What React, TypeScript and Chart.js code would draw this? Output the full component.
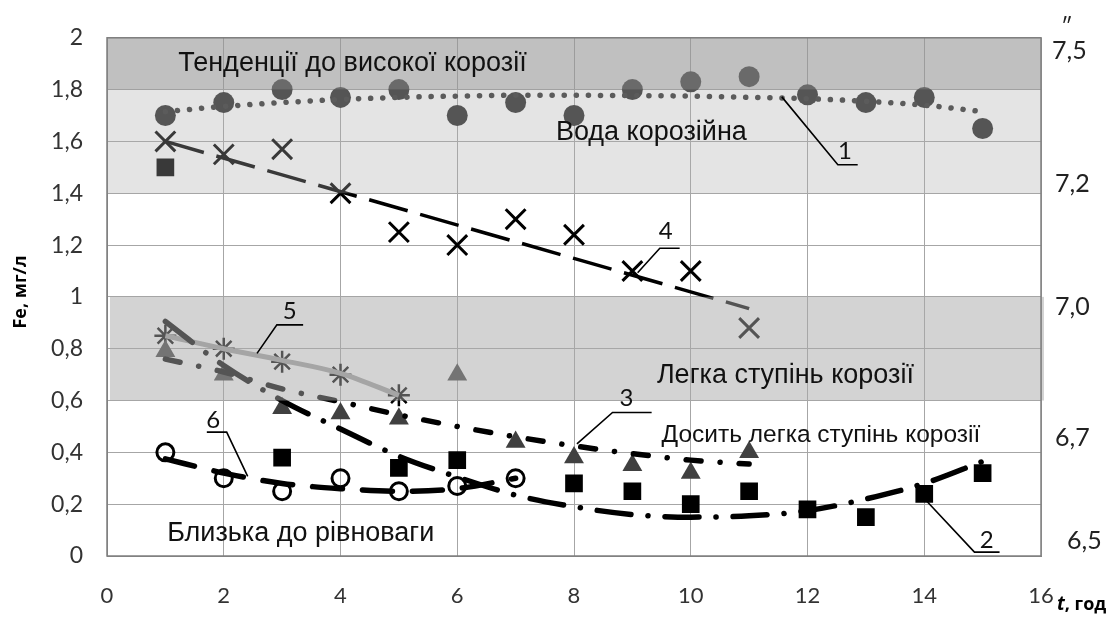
import React, { useEffect, useRef } from "react";
import { Chart, registerables } from "chart.js";

Chart.register(...registerables);

// ---- data (t in hours, Fe in mg/l) ----
const t1 = [1, 2, 3, 4, 5, 6, 7, 8, 9, 10, 11, 12, 13, 14, 15];
const fe1 = [1.7, 1.75, 1.8, 1.77, 1.8, 1.7, 1.75, 1.7, 1.8, 1.83, 1.85, 1.78, 1.75, 1.77, 1.65];
const trend1 = [1.715, 1.735, 1.75, 1.762, 1.77, 1.775, 1.778, 1.778, 1.777, 1.775, 1.77, 1.765, 1.755, 1.74, 1.715];

const t2 = [1, 3, 5, 6, 8, 9, 10, 11, 12, 13, 14, 15];
const fe2 = [1.5, 0.38, 0.34, 0.37, 0.28, 0.25, 0.2, 0.25, 0.18, 0.15, 0.24, 0.32];
const tTrend2 = [1, 2, 3, 4, 5, 6, 7, 8, 9, 10, 11, 12, 13, 14, 15];
const trend2 = [0.905, 0.735, 0.6, 0.49, 0.385, 0.305, 0.235, 0.19, 0.16, 0.15, 0.155, 0.175, 0.22, 0.28, 0.365];

const t3 = [1, 2, 3, 4, 5, 6, 7, 8, 9, 10, 11];
const fe3 = [0.79, 0.7, 0.57, 0.55, 0.53, 0.7, 0.44, 0.38, 0.35, 0.32, 0.4];
const trend3 = [0.76, 0.71, 0.645, 0.595, 0.545, 0.5, 0.46, 0.425, 0.395, 0.37, 0.355];

const t4 = [1, 2, 3, 4, 5, 6, 7, 8, 9, 10, 11];
const fe4 = [1.6, 1.55, 1.57, 1.4, 1.25, 1.2, 1.3, 1.24, 1.1, 1.1, 0.88];
const tTrend4 = [1, 11];
const trend4 = [1.6, 0.955];

const t5 = [1, 2, 3, 4, 5];
const fe5 = [0.85, 0.8, 0.75, 0.7, 0.62];
const trend5 = [0.85, 0.8, 0.755, 0.705, 0.62];

const t6 = [1, 2, 3, 4, 5, 6, 7];
const fe6 = [0.4, 0.3, 0.25, 0.3, 0.25, 0.27, 0.3];
const trend6 = [0.375, 0.32, 0.28, 0.26, 0.25, 0.26, 0.3];

// corrosion zones (Fe, mg/l)
const bandFrom = [1.8, 1.4, 0.6];
const bandTo = [2.0, 1.8, 1.0];

const zoneTexts = [
  "Тенденції до високої корозії",
  "Вода корозійна",
  "Легка ступінь корозії",
  "Досить легка ступінь корозії",
  "Близька до рівноваги",
];
const zoneT = [1.22, 7.69, 9.42, 9.5, 1.03];
const zoneFe = [1.9, 1.636, 0.698, 0.467, 0.087];

// pH labels on the right side, at their Fe-scale levels
const phLabels = ["7,5", "7,2", "7,0", "6,7", "6,5"];
const phLevels = [1.95, 1.435, 0.96, 0.455, 0.057];

// curve number callouts: text, text position, leader polyline (t, Fe)
const calloutTexts = ["1", "2", "3", "4", "5", "6"];
const calloutAt = [
  [12.64, 1.563],
  [15.07, 0.06],
  [8.9, 0.607],
  [9.57, 1.252],
  [3.13, 0.945],
  [1.82, 0.524],
];
const calloutPaths = [
  [[11.56, 1.772], [12.52, 1.51], [12.86, 1.51]],
  [[14.04, 0.2125], [14.86, 0.015], [15.29, 0.015]],
  [[8.05, 0.433], [8.66, 0.554], [9.33, 0.554]],
  [[9.09, 1.093], [9.47, 1.188], [9.81, 1.188]],
  [[2.57, 0.782], [2.91, 0.892], [3.36, 0.892]],
  [[2.41, 0.307], [2.05, 0.478], [1.71, 0.478]],
];

const pts = (xs: number[], ys: number[]) => xs.map((x, i) => ({ x, y: ys[i] }));

const overlayPlugin = {
  id: "overlay",
  afterDatasetsDraw(chart: any) {
    const { ctx, chartArea: a, scales } = chart;
    const x = scales.x;
    const y = scales.y;
    const bandFill = ["rgba(150,150,150,0.6)", "rgba(172,172,172,0.33)", "rgba(167,167,167,0.5)"];
    const bandInset = [0, 0, 3];
    const bandExtend = [0, 0, 3];
    ctx.save();
    bandFrom.forEach((f, i) => {
      const yt = y.getPixelForValue(bandTo[i]);
      const yb = y.getPixelForValue(f);
      ctx.fillStyle = bandFill[i];
      ctx.fillRect(a.left + bandInset[i], yt, a.right - a.left - bandInset[i] + bandExtend[i], yb - yt);
    });
    // plot frame
    ctx.strokeStyle = "#7f7f7f";
    ctx.lineWidth = 1.5;
    ctx.strokeRect(a.left, a.top, a.right - a.left, a.bottom - a.top);

    // zone texts
    ctx.fillStyle = "#111";
    ctx.textBaseline = "middle";
    ctx.textAlign = "left";
    zoneTexts.forEach((s, i) => {
      ctx.font = (i === 3 ? "24.5px" : "27px") + " 'Liberation Sans', Arial, sans-serif";
      ctx.fillText(s, x.getPixelForValue(zoneT[i]), y.getPixelForValue(zoneFe[i]));
    });

    // callouts
    ctx.strokeStyle = "#000";
    ctx.lineWidth = 1.6;
    calloutPaths.forEach((p) => {
      ctx.beginPath();
      p.forEach(([tv, fv], j) => {
        const px = x.getPixelForValue(tv);
        const py = y.getPixelForValue(fv);
        if (j === 0) ctx.moveTo(px, py);
        else ctx.lineTo(px, py);
      });
      ctx.stroke();
    });
    ctx.font = "24px Lato, 'Open Sans', sans-serif";
    ctx.textAlign = "center";
    ctx.fillStyle = "#111";
    calloutTexts.forEach((s, i) => {
      ctx.fillText(s, x.getPixelForValue(calloutAt[i][0]), y.getPixelForValue(calloutAt[i][1]));
    });

    // pH labels on the right
    const phDx = [11, 14, 14, 14, 26];
    ctx.textAlign = "left";
    ctx.font = "25px Lato, 'Open Sans', sans-serif";
    ctx.fillStyle = "#222";
    phLabels.forEach((s, i) => {
      ctx.fillText(s, a.right + phDx[i], y.getPixelForValue(phLevels[i]));
    });
    ctx.font = "22px Lato, sans-serif";
    ctx.fillText("″", a.right + 20, a.top - 12);

    // y axis title
    ctx.save();
    ctx.translate(21, 292);
    ctx.rotate(-Math.PI / 2);
    ctx.textAlign = "center";
    ctx.font = "bold 18px 'Open Sans', sans-serif";
    ctx.fillStyle = "#000";
    ctx.fillText("Fe, мг/л", 0, 0);
    ctx.restore();

    // x axis title
    ctx.textAlign = "left";
    ctx.fillStyle = "#000";
    ctx.font = "italic bold 19px 'Open Sans', sans-serif";
    const tx = a.right + 16;
    const ty = a.bottom + 49;
    ctx.fillText("t", tx, ty);
    const tw = ctx.measureText("t").width;
    ctx.font = "bold 18px 'Open Sans', sans-serif";
    ctx.fillText(", год", tx + tw, ty);
    ctx.restore();
  },
};

export default function App() {
  const ref = useRef<HTMLCanvasElement>(null);
  useEffect(() => {
    if (!ref.current) return;
    const lineBase = {
      showLine: true,
      pointRadius: 0,
      pointHoverRadius: 0,
      fill: false,
      cubicInterpolationMode: "monotone",
      borderCapStyle: "round",
      order: 0,
    };
    const markBase = { showLine: false, order: 1 };
    const chart = new Chart(ref.current, {
      type: "scatter",
      data: {
        datasets: [
          { ...lineBase, label: "trend1", data: pts(t1, trend1), borderColor: "#333", borderWidth: 5.5, borderDash: [0.1, 12] },
          { ...lineBase, label: "trend2", data: pts(tTrend2, trend2), borderColor: "#000", borderWidth: 5.5, borderDash: [34, 17, 0.1, 17] },
          { ...lineBase, label: "trend3", data: pts(t3, trend3), borderColor: "#000", borderWidth: 5.5, borderDash: [15, 19, 0.1, 19] },
          { ...lineBase, label: "trend4", data: pts(tTrend4, trend4), borderColor: "#000", borderWidth: 3.5, borderDash: [40, 13], borderCapStyle: "butt" },
          { ...lineBase, label: "trend5", data: pts(t5, trend5), borderColor: "#a3a3a3", borderWidth: 5, borderCapStyle: "butt" },
          { ...lineBase, label: "trend6", data: pts(t6, trend6), borderColor: "#000", borderWidth: 5.5, borderDash: [30, 20] },
          { ...markBase, label: "1", data: pts(t1, fe1), pointStyle: "circle", pointRadius: 10.5, backgroundColor: "#2a2a2a", borderWidth: 0 },
          { ...markBase, label: "2", data: pts(t2, fe2), pointStyle: "rect", pointRadius: 12.5, backgroundColor: "#000", borderWidth: 0 },
          { ...markBase, label: "3", data: pts(t3, fe3), pointStyle: "triangle", pointRadius: 11.5, backgroundColor: "#404040", borderWidth: 0 },
          { ...markBase, label: "4", data: pts(t4, fe4), pointStyle: "crossRot", pointRadius: 14, borderColor: "#000", borderWidth: 3 },
          { ...markBase, label: "5", data: pts(t5, fe5), pointStyle: "star", pointRadius: 11, borderColor: "#000", borderWidth: 2.5 },
          { ...markBase, label: "6", data: pts(t6, fe6), pointStyle: "circle", pointRadius: 8.5, borderColor: "#000", borderWidth: 3, backgroundColor: "rgba(255,255,255,0)" },
        ],
      },
      options: {
        animation: false,
        responsive: false,
        devicePixelRatio: 1,
        layout: { padding: { left: 0, right: 78, top: 29, bottom: 0 } },
        plugins: { legend: { display: false }, tooltip: { enabled: false } },
        events: [],
        scales: {
          x: {
            type: "linear",
            min: 0,
            max: 16,
            afterFit: (s: any) => {
              s.height = 63;
            },
            ticks: {
              stepSize: 2,
              padding: 27,
              color: "#333",
              font: { family: "Lato, 'Open Sans', sans-serif", size: 22 },
            },
            grid: { color: "#a6a6a6", lineWidth: 1, drawTicks: false },
            border: { color: "#8a8a8a", width: 1 },
          },
          y: {
            type: "linear",
            min: 0,
            max: 2,
            afterFit: (s: any) => {
              s.width = 107;
            },
            ticks: {
              stepSize: 0.2,
              padding: 24,
              color: "#333",
              font: { family: "Lato, 'Open Sans', sans-serif", size: 23 },
              callback: (v: any) => String(Math.round(Number(v) * 10) / 10).replace(".", ","),
            },
            grid: { color: "#a6a6a6", lineWidth: 1, drawTicks: false },
            border: { color: "#8a8a8a", width: 1 },
          },
        },
      } as any,
      plugins: [overlayPlugin],
    } as any);
    return () => chart.destroy();
  }, []);
  return (
    <div style={{ position: "absolute", left: 0, top: 0, width: 1119, height: 619, background: "#fff" }}>
      <canvas ref={ref} width={1119} height={619} style={{ width: 1119, height: 619, display: "block" }} />
    </div>
  );
}
